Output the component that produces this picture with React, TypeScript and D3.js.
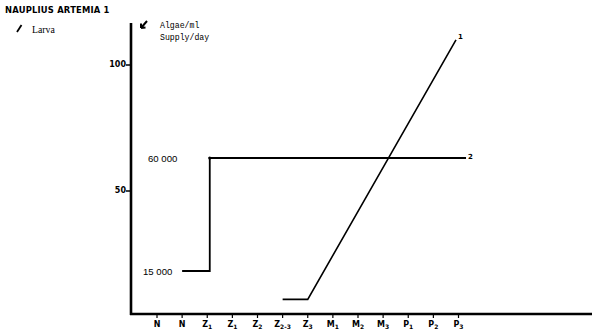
import React from "react";
import * as d3 from "d3";

const stages = ["N", "N", "Z1", "Z1", "Z2", "Z2-3", "Z3", "M1", "M2", "M3", "P1", "P2", "P3"];
const yTicks = [50, 100];
// Larva curve (series 1): stage index -> value on left axis
const larvaIdx = [5, 6, 11.9];
const larvaVal = [7, 7, 110];
// Algae supply (series 2): stage index -> algae/ml per day
const algaeIdx = [1, 2.1, 2.1, 12.3];
const algaeVal = [15000, 15000, 60000, 60000];
const algaeLabels = [15000, 60000];

const W = 600, H = 334;

export default function App() {
  const x = d3.scaleLinear().domain([0, 12]).range([157, 458.5]);
  const y = d3.scaleLinear().domain([0, 100]).range([317, 65]);
  const ya = d3.scaleLinear().domain([15000, 60000]).range([271, 158]);

  const larvaPts = larvaIdx.map((d, i) => [x(d), y(larvaVal[i])] as [number, number]);
  const algaePts = algaeIdx.map((d, i) => [x(d), ya(algaeVal[i])] as [number, number]);
  const line = d3.line();
  const axisX = 131, axisBottom = 314;
  const fmt = (v: number) => d3.format(",")(v).replace(",", " ");

  const sub = (s: string) => {
    const base = s[0];
    const rest = s.slice(1);
    return (
      <>
        {base}
        {rest && <tspan fontSize={6} dy={2}>{rest}</tspan>}
      </>
    );
  };

  return (
    <svg width={W} height={H} style={{ position: "absolute", left: 0, top: 0, background: "#fff" }}>
      <rect width={W} height={H} fill="#fff" />
      <text x={5} y={13} fontFamily="DejaVu Sans" fontWeight="bold" fontSize={8.4} letterSpacing={0.2}>NAUPLIUS ARTEMIA 1</text>
      <line x1={17} y1={32} x2={21.5} y2={25} stroke="#000" strokeWidth={1.8} />
      <text x={32} y={33} fontFamily="Liberation Serif" fontSize={9.8}>Larva</text>
      <path d="M141,28 L147,21 M141,28 L141,23.5 M141,28 L145.5,27.5" stroke="#000" strokeWidth={2} fill="none" />
      <text x={160} y={28} fontFamily="Liberation Mono" fontSize={8.2}>Algae/ml</text>
      <text x={160} y={40} fontFamily="Liberation Mono" fontSize={8.2}>Supply/day</text>

      {/* axes */}
      <line x1={axisX} y1={23} x2={axisX} y2={axisBottom + 1} stroke="#000" strokeWidth={2.6} />
      <line x1={axisX - 1} y1={axisBottom} x2={592} y2={axisBottom} stroke="#000" strokeWidth={2.6} />
      {yTicks.map((t) => (
        <g key={t}>
          <line x1={axisX - 5} y1={y(t)} x2={axisX} y2={y(t)} stroke="#000" strokeWidth={1.5} />
          <text x={axisX - 5} y={y(t) + 2} textAnchor="end" fontFamily="DejaVu Sans" fontWeight="bold" fontSize={8}>{t}</text>
        </g>
      ))}
      {stages.map((s, i) => (
        <g key={i}>
          <line x1={x(i)} y1={axisBottom} x2={x(i)} y2={axisBottom + 4} stroke="#000" strokeWidth={1.2} />
          <text x={x(i)} y={327} textAnchor="middle" fontFamily="DejaVu Sans" fontWeight="bold" fontSize={8}>{sub(s)}</text>
        </g>
      ))}

      {/* series */}
      <path d={line(larvaPts) || ""} fill="none" stroke="#000" strokeWidth={1.6} />
      <path d={line(algaePts) || ""} fill="none" stroke="#000" strokeWidth={1.8} />
      <circle cx={algaePts[2][0]} cy={algaePts[2][1]} r={1.6} fill="#000" />
      <text x={larvaPts[2][0] + 2} y={larvaPts[2][1] - 1} fontFamily="DejaVu Sans" fontWeight="bold" fontSize={7}>1</text>
      <text x={algaePts[3][0] + 2} y={algaePts[3][1] + 1} fontFamily="DejaVu Sans" fontWeight="bold" fontSize={7}>2</text>
      {algaeLabels.map((v) => (
        <text key={v} x={v === 60000 ? 148 : 143} y={ya(v) + 3.5} fontFamily="Liberation Sans" fontSize={9.6}>{fmt(v)}</text>
      ))}
    </svg>
  );
}
